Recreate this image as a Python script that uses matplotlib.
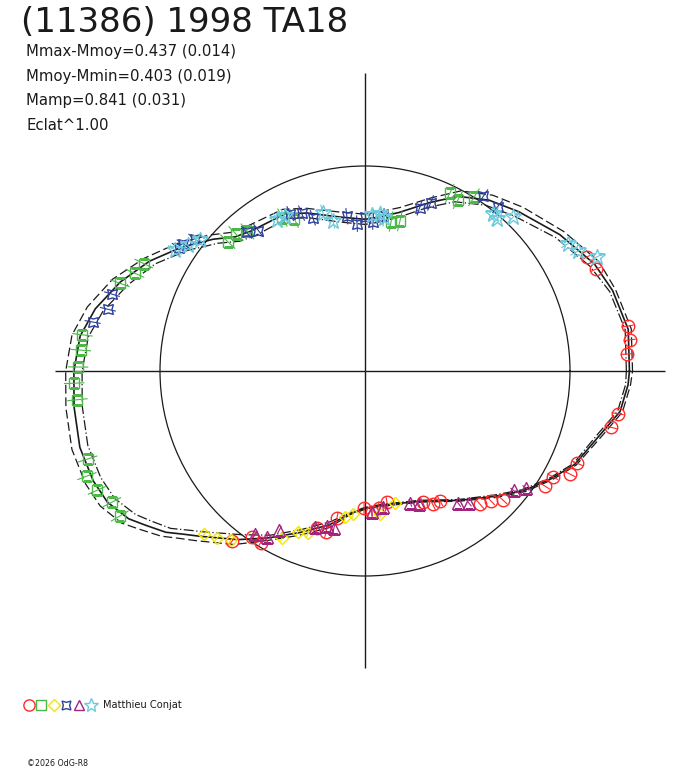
"""
Polar lightcurve of (11386) 1998 TA18, one symbol per observing session.
"""
import numpy as np
import matplotlib
matplotlib.use("Agg")
import matplotlib.pyplot as plt
from matplotlib.lines import Line2D

# ── fitted curve (phase in degrees, relative flux radius) ─────────────
CURVE_PHASE = [0, 9, 18, 25, 35, 46, 54, 62, 69, 78,
               86, 90, 99, 110, 117, 129, 134, 139, 146, 153,
               160, 167, 173, 180, 187, 195, 202, 207, 212, 215,
               219, 222, 225, 233, 240, 248, 257, 264, 270, 278,
               293, 306, 316, 323, 330, 336, 345, 351, 357]
CURVE_R = [1.29, 1.30, 1.27, 1.235, 1.16, 1.08, 1.03, 0.965, 0.88, 0.79,
           0.75, 0.74, 0.76, 0.82, 0.86, 0.88, 0.91, 0.98, 1.08, 1.18,
           1.27, 1.35, 1.40, 1.42, 1.43, 1.44, 1.43, 1.41, 1.36, 1.31,
           1.25, 1.19, 1.14, 1.03, 0.94, 0.85, 0.77, 0.70, 0.67, 0.66,
           0.69, 0.78, 0.88, 0.97, 1.05, 1.12, 1.19, 1.26, 1.285]
CURVE_ERR = [0.015, 0.015, 0.015, 0.025, 0.025, 0.03, 0.03, 0.03, 0.025, 0.025,
             0.025, 0.025, 0.025, 0.025, 0.025, 0.03, 0.03, 0.03, 0.03, 0.03,
             0.04, 0.04, 0.04, 0.04, 0.04, 0.04, 0.04, 0.04, 0.04, 0.035,
             0.03, 0.03, 0.03, 0.03, 0.015, 0.015, 0.015, 0.005, 0.005, 0.005,
             0.005, 0.005, 0.008, 0.008, 0.008, 0.008, 0.012, 0.012, 0.012]

# ── sessions ──────────────────────────────────────────────────────────
RED_PHASE = [27.2, 23.8, 9.7, 6.7, 3.7, 350.4, 347.1, 336.5, 333.3, 330.6,
             327.4, 316.9, 314.1, 310.8, 300.0, 296.9, 293.7, 279.5, 275.9, 272.8,
             269.6, 259.2, 256.4, 253.0, 238.7, 235.9, 232.0]
RED_R = [1.22, 1.23, 1.30, 1.30, 1.28, 1.25, 1.23, 1.13, 1.12, 1.05,
         1.04, 0.92, 0.88, 0.86, 0.73, 0.73, 0.70, 0.65, 0.67, 0.69,
         0.67, 0.73, 0.81, 0.80, 0.98, 0.98, 1.05]

GREEN_PHASE = [154.1, 157.0, 160.3, 172.7, 175.8, 179.2, 182.4, 185.7, 197.6, 200.7,
               204.0, 207.4, 210.6, 136.7, 133.3, 130.1, 118.3, 114.9, 80.1, 76.9,
               64.5, 61.5, 57.9]
GREEN_R = [1.20, 1.22, 1.27, 1.39, 1.39, 1.40, 1.42, 1.41, 1.42, 1.45,
           1.43, 1.39, 1.39, 0.92, 0.92, 0.89, 0.85, 0.82, 0.74, 0.75,
           0.96, 0.95, 1.00]

YELLOW_PHASE = [225.4, 228.5, 231.6, 243.6, 247.3, 250.6, 262.2, 265.2, 276.0, 282.8]
YELLOW_R = [1.12, 1.09, 1.05, 0.91, 0.85, 0.84, 0.72, 0.70, 0.70, 0.66]

BLUE_PHASE = [163.1, 166.5, 169.8, 146.5, 145.1, 142.2, 130.5, 127.2, 115.4, 111.9,
              108.8, 96.7, 93.1, 90.0, 86.9, 83.3, 71.5, 68.7, 55.9, 51.1]
BLUE_R = [1.29, 1.29, 1.35, 1.09, 1.08, 1.05, 0.89, 0.86, 0.85, 0.83,
          0.79, 0.76, 0.72, 0.75, 0.73, 0.76, 0.84, 0.88, 1.03, 1.03]

MAGENTA_PHASE = [236.1, 239.4, 241.7, 252.2, 256.2, 258.8, 272.8, 277.5, 289.0, 292.0,
                 305.2, 308.2, 321.2, 324.0]
MAGENTA_R = [0.96, 0.94, 0.88, 0.80, 0.78, 0.78, 0.69, 0.67, 0.68, 0.70,
             0.79, 0.82, 0.93, 0.97]

CYAN_PHASE = [147.5, 144.7, 141.6, 120.2, 117.5, 104.9, 102.0, 87.4, 84.6, 82.9,
              50.8, 49.0, 46.1, 32.1, 29.4, 26.2]
CYAN_R = [1.10, 1.06, 1.03, 0.85, 0.85, 0.80, 0.75, 0.76, 0.77, 0.75,
          0.99, 0.98, 1.04, 1.17, 1.19, 1.26]

SESSIONS = [
    # phase, radius, error, colour, marker, size
    (RED_PHASE, RED_R, 0.03, "#ff2a2a", "o", 9),
    (GREEN_PHASE, GREEN_R, 0.05, "#4db848", "s", 7.5),
    (YELLOW_PHASE, YELLOW_R, 0.02, "#f2e600", "D", 6.5),
    (BLUE_PHASE, BLUE_R, 0.04, "#2e3f9c", (4, 1, 45), 10),
    (MAGENTA_PHASE, MAGENTA_R, 0.02, "#a3247e", "^", 8),
    (CYAN_PHASE, CYAN_R, 0.04, "#6ccadc", "*", 12),
]

TITLE = "(11386) 1998 TA18"
STATS = ["Mmax-Mmoy=0.437 (0.014)",
         "Mmoy-Mmin=0.403 (0.019)",
         "Mamp=0.841 (0.031)",
         "Eclat^1.00"]
OBSERVER = "Matthieu Conjat"
COPYRIGHT = "©2026 OdG-R8"

# ── layout (pixels) ───────────────────────────────────────────────────
W, H, DPI = 688, 768, 100
CX, CY = 365, 371          # plot centre
UNIT = 205                 # pixels per unit radius
RMAX = 1.52
CROSS = {0: 1.463, 90: 1.454, 180: 1.512, 270: 1.449}
FONT = "DejaVu Sans"
INK = "#1a1a1a"

fig = plt.figure(figsize=(W / DPI, H / DPI), dpi=DPI)
rpx = UNIT * RMAX
ax = fig.add_axes([(CX - rpx) / W, (H - CY - rpx) / H, 2 * rpx / W, 2 * rpx / H],
                  projection="polar")
ax.set_ylim(0, RMAX)
ax.set_xticks([])
ax.set_yticks([1.0])
ax.set_yticklabels([])
ax.yaxis.grid(True, color=INK, lw=0.9)
ax.xaxis.grid(False)
ax.spines["polar"].set_visible(False)
ax.patch.set_alpha(0)

# axis cross
ax.vlines(np.deg2rad(list(CROSS.keys())), 0, list(CROSS.values()), color=INK, lw=1.0)

# fitted curve and its envelope
th = np.deg2rad(np.r_[CURVE_PHASE, CURVE_PHASE[0] + 360])
r = np.r_[CURVE_R, CURVE_R[0]]
e = np.r_[CURVE_ERR, CURVE_ERR[0]]
ax.plot(th, r + e, color=INK, lw=0.9, ls=(0, (7, 3)))
ax.plot(th, r - e, color=INK, lw=0.9, ls=(0, (8, 2, 1, 2)))
ax.plot(th, r, color=INK, lw=1.2)

# sessions with radial error bars
for ph, rr, err, col, mk, ms in SESSIONS:
    t = np.deg2rad(ph)
    rr = np.asarray(rr)
    ax.vlines(t, rr - err, rr + err, color=col, lw=0.8)
    ax.plot(t, rr, ls="none", marker=mk, ms=ms, mfc="none", mec=col, mew=1.0)

# texts (baselines in pixels from the top)
fig.text(21 / W, 1 - 31.5 / H, TITLE, fontsize=24.5, family=FONT, va="baseline",
         color=INK)
for i, s in enumerate(STATS):
    fig.text(26 / W, 1 - (56 + 24.6 * i) / H, s, fontsize=10.7, family=FONT,
             va="baseline", color=INK)

# legend row
for i, (_, _, _, col, mk, ms) in enumerate(SESSIONS):
    x = 29 + 12.4 * i
    fig.add_artist(Line2D([x / W], [1 - 705 / H], transform=fig.transFigure,
                          ls="none", marker=mk, ms=ms * 0.9, mfc="none",
                          mec=col, mew=1.0))
fig.text(103 / W, 1 - 708.5 / H, OBSERVER, fontsize=7.1, family=FONT,
         va="baseline", color=INK)
fig.text(27 / W, 1 - 766 / H, COPYRIGHT, fontsize=5.7, family=FONT,
         va="baseline", color=INK)

fig.savefig("out.png", dpi=DPI)
